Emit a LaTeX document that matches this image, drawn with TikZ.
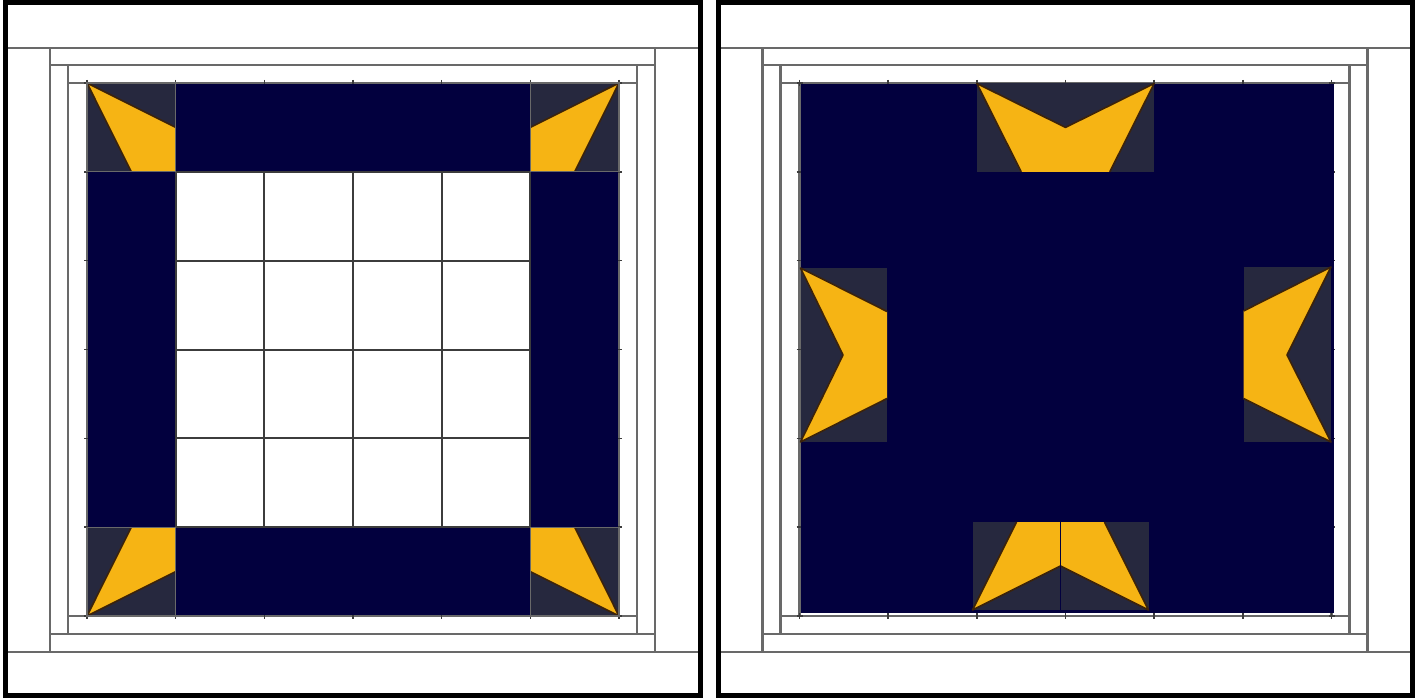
\documentclass[tikz,border=0pt]{standalone}
\definecolor{navy}{RGB}{2,0,62}
\definecolor{unitbg}{RGB}{38,40,62}
\definecolor{gold}{RGB}{246,180,20}
\definecolor{goldedge}{RGB}{60,35,10}
\definecolor{framegray}{RGB}{105,105,105}
\definecolor{gridgray}{RGB}{60,60,60}
\tikzset{
 outerframe/.style={draw=black, line width=5pt},
 frameline/.style={draw=framegray, line width=2.2pt},
 gridline/.style={draw=gridgray, line width=2pt},
 navypatch/.style={fill=navy},
 unitcell/.style={fill=unitbg},
 goldfill/.style={fill=gold},
 goldline/.style={draw=goldedge, line width=1.6pt, line join=round},
 celloutline/.style={draw=framegray, line width=1.2pt},
 tickmark/.style={draw=gridgray, line width=1.4pt},
 seamline/.style={draw=navy, line width=1pt},
}
\newcommand\panelframes{%
 \draw[frameline] (5.5,48)--(700.5,48) (5.5,652)--(700.5,652);
 \draw[frameline] (50,48)--(50,652) (655,48)--(655,652);
 \draw[frameline] (50,65)--(655,65) (50,634)--(655,634);
 \draw[frameline] (68,65)--(68,634) (637,65)--(637,634);
 \draw[frameline] (68,83)--(637,83) (68,616)--(637,616);
 \draw[frameline] (87,83)--(87,616) (619,83)--(619,616);
}
\newcommand\panelticks{%
 \foreach \i in {0,...,6}{
  \draw[tickmark] ({87+88.667*\i},80)--({87+88.667*\i},86);
  \draw[tickmark] ({87+88.667*\i},613)--({87+88.667*\i},619);
  \draw[tickmark] (84,{83+88.833*\i})--(90,{83+88.833*\i});
  \draw[tickmark] (616,{83+88.833*\i})--(622,{83+88.833*\i});
 }
}
\begin{document}
\begin{tikzpicture}[x=1pt,y=-1pt]
\useasboundingbox (0,0) rectangle (1419,698);
\fill[white] (0,0) rectangle (1419,698);

% ---------------- left panel ----------------
\begin{scope}
 \panelframes
 \panelticks
 % navy border strips
 \fill[navypatch] (175.67,84) rectangle (530.33,171.83);
 \fill[navypatch] (175.67,527.17) rectangle (530.33,615);
 \fill[navypatch] (88,171.83) rectangle (175.67,527.17);
 \fill[navypatch] (530.33,171.83) rectangle (618,527.17);
 % center grid
 \foreach \i in {1,...,5}{
  \draw[gridline] ({87+88.667*\i},171.83)--({87+88.667*\i},527.17);
  \draw[gridline] (175.67,{83+88.833*\i})--(530.33,{83+88.833*\i});
 }
 % corner star points
 % top-left
 \fill[unitcell] (87,83) rectangle (175.67,171.83);
 \fill[goldfill] (87,83)--(175.67,127.4)--(175.67,171.83)--(131.3,171.83)--cycle;
 \draw[goldline] (175.67,127.4)--(87,83)--(131.3,171.83);
 \draw[celloutline] (87,83) rectangle (175.67,171.83);
 % top-right
 \fill[unitcell] (530.33,83) rectangle (619,171.83);
 \fill[goldfill] (619,83)--(530.33,127.4)--(530.33,171.83)--(574.7,171.83)--cycle;
 \draw[goldline] (530.33,127.4)--(619,83)--(574.7,171.83);
 \draw[celloutline] (530.33,83) rectangle (619,171.83);
 % bottom-left
 \fill[unitcell] (87,527.17) rectangle (175.67,616);
 \fill[goldfill] (87,616)--(131.3,527.17)--(175.67,527.17)--(175.67,571.6)--cycle;
 \draw[goldline] (131.3,527.17)--(87,616)--(175.67,571.6);
 \draw[celloutline] (87,527.17) rectangle (175.67,616);
 % bottom-right
 \fill[unitcell] (530.33,527.17) rectangle (619,616);
 \fill[goldfill] (619,616)--(574.7,527.17)--(530.33,527.17)--(530.33,571.6)--cycle;
 \draw[goldline] (574.7,527.17)--(619,616)--(530.33,571.6);
 \draw[celloutline] (530.33,527.17) rectangle (619,616);
 \draw[outerframe] (5.5,3) rectangle (700.5,695.5);
\end{scope}

% ---------------- right panel ----------------
\begin{scope}[shift={(712.5,0)}]
 \panelframes
 \panelticks
 \fill[navypatch] (88,84) rectangle (621,613);
 % top pair
 \fill[unitcell] (264.33,83.5) rectangle (441.67,171.83);
 \fill[goldfill] (264.33,83.5)--(353,127.4)--(441.67,83.5)--(397.3,171.83)--(308.7,171.83)--cycle;
 \draw[goldline] (308.7,171.83)--(264.33,83.5)--(353,127.4)--(441.67,83.5)--(397.3,171.83);
 % bottom pair
 \fill[unitcell] (260,522) rectangle (436,610);
 \fill[goldfill] (260,610)--(304,522)--(392,522)--(436,610)--(348,566)--cycle;
 \draw[goldline] (304,522)--(260,610)--(348,566)--(436,610)--(392,522);
 \draw[seamline] (348,522)--(348,610);
 % left pair
 \fill[unitcell] (88,268) rectangle (174.5,442);
 \fill[goldfill] (88,268)--(174.5,311.5)--(174.5,398.5)--(88,442)--(130.5,355)--cycle;
 \draw[goldline] (174.5,311.5)--(88,268)--(130.5,355)--(88,442)--(174.5,398.5);
 % right pair
 \fill[unitcell] (531,267) rectangle (618.5,442);
 \fill[goldfill] (618.5,267)--(531,311)--(531,398.5)--(618.5,442)--(574.5,355)--cycle;
 \draw[goldline] (531,311)--(618.5,267)--(574.5,355)--(618.5,442)--(531,398.5);
 \draw[outerframe] (5.5,3) rectangle (700,695.5);
\end{scope}
\end{tikzpicture}
\end{document}
